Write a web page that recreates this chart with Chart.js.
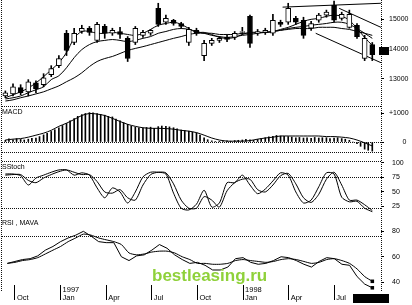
<!DOCTYPE html>
<html><head><meta charset="utf-8">
<script src="https://cdn.jsdelivr.net/npm/chart.js@4.4.0/dist/chart.umd.min.js"></script>
<style>
html,body{margin:0;padding:0;background:#fff;}
#wrap{position:relative;width:412px;height:305px;overflow:hidden;background:#fff;font-family:'Liberation Sans',Arial,sans-serif;}
canvas{position:absolute;left:0;}
.h{position:absolute;left:2px;width:379px;height:0;border-top:1px dotted #111;}
.v{position:absolute;top:0;height:291px;width:0;border-left:1px dotted #111;}
.t{position:absolute;font-size:7px;line-height:8px;color:#000;white-space:nowrap;}
.blk{position:absolute;background:#000;}
#wm{position:absolute;left:152px;top:266px;font:bold 17px 'Liberation Sans',Arial,sans-serif;color:#8fd13a;line-height:20px;white-space:nowrap;}
</style></head><body>
<div id="wrap">
<canvas id="cPrice" width="412" height="104" style="top:0"></canvas>
<canvas id="cMacd" width="412" height="52" style="top:104px"></canvas>
<canvas id="cStoch" width="412" height="60" style="top:156px"></canvas>
<canvas id="cRsi" width="412" height="89" style="top:216px"></canvas>
<div class="v" style="left:1px"></div>
<div class="v" style="left:381px"></div>
<div class="h" style="top:106px"></div>
<div class="h" style="top:142px"></div>
<div class="h" style="top:152px"></div>
<div class="h" style="top:161px"></div>
<div class="h" style="top:177px"></div>
<div class="h" style="top:208px"></div>
<div class="h" style="top:236px"></div>
<div class="t" style="left:2px;top:108px">MACD</div>
<div class="t" style="left:2px;top:163px">SStoch</div>
<div class="t" style="left:2px;top:219px">RSI , MAVA</div>
<div class="blk" style="left:379px;top:47px;width:10px;height:8px"></div>
<div class="blk" style="left:353px;top:294px;width:36px;height:9px"></div>
<div id="wm">bestleasing.ru</div>
</div>
<script>
// ---------- data ----------
const dates = ['1996-09-16','1996-10-01','1996-10-16','1996-11-01','1996-11-16','1996-12-01','1996-12-16',
 '1997-01-01','1997-01-16','1997-02-01','1997-02-16','1997-03-01','1997-03-16','1997-04-01','1997-04-16',
 '1997-05-01','1997-05-16','1997-06-01','1997-06-16','1997-07-01','1997-07-16','1997-08-01','1997-08-16',
 '1997-09-01','1997-09-16','1997-10-01','1997-10-16','1997-11-01','1997-11-16','1997-12-01','1997-12-16',
 '1998-01-01','1998-01-16','1998-02-01','1998-02-16','1998-03-01','1998-03-16','1998-04-01','1998-04-16',
 '1998-05-01','1998-05-16','1998-06-01','1998-06-16','1998-07-01','1998-07-16','1998-08-01','1998-08-16',
 '1998-09-01','1998-09-16'];

const priceOpen  = [12420,12490,12700,12560,12860,12800,13140,13440,14530,14220,14590,14700,14290,14760,14530,14590,14360,14220,14460,14530,15370,14900,14970,14860,14220,14630,13780,14190,14290,14390,14390,14560,15100,14530,14560,14530,14900,14900,15030,14970,14700,14970,15140,15470,15030,14730,14800,13680,14150];
const priceClose = [12530,12730,12530,12900,12660,13030,13340,13680,13950,14530,14700,14560,14830,14530,14630,14490,13680,14700,14560,14630,14830,15030,14860,14760,14660,14530,14190,14290,14360,14320,14530,14590,14190,14590,14630,14970,14830,15370,14900,14460,14860,15140,15240,14970,15170,15170,14420,14360,13810];
const priceHigh  = [12590,12830,12800,12970,12930,13170,13440,13780,14630,14700,14800,14760,14900,14830,14700,14730,14420,14760,14630,14660,15540,15140,15000,14900,14730,14700,14290,14360,14420,14460,14590,14730,15140,14660,14700,15170,14970,15540,15100,15070,14930,15200,15310,15610,15240,15310,14860,14460,14220];
const priceLow   = [12360,12420,12460,12420,12530,12730,13070,13370,13780,14150,14530,14460,14220,14360,14460,14360,13580,14150,14390,14460,14760,14830,14800,14700,14120,14460,13610,14120,14220,14250,14320,14490,14050,14460,14490,14460,14760,14830,14830,14360,14630,14900,15070,14900,14970,14700,14360,13610,13610];

const maFast = [12360,12460,12560,12690,12860,13070,13300,13540,13880,14360,14590,14590,14530,14530,14560,14530,14490,14460,14530,14660,14800,14860,14900,14830,14690,14560,14560,14490,14390,14360,14390,14490,14560,14560,14560,14590,14660,14730,14830,14930,15000,15030,15100,15140,15100,14970,14690,14390,14120];
const maMid  = [12320,12360,12420,12530,12630,12730,12970,13100,13370,13710,13980,14150,14250,14290,14320,14290,14250,14290,14360,14420,14530,14590,14660,14690,14660,14590,14530,14460,14420,14390,14420,14460,14490,14530,14560,14590,14630,14690,14730,14760,14800,14830,14860,14900,14900,14830,14690,14530,14360];
const maSlow = [12250,12290,12360,12420,12490,12560,12660,12760,12900,13030,13200,13410,13580,13680,13750,13850,13950,14020,14080,14150,14220,14290,14360,14420,14490,14530,14530,14530,14490,14490,14490,14530,14530,14560,14560,14590,14630,14660,14690,14690,14690,14730,14730,14730,14690,14660,14590,14530,14460];

const trendTopDates  = ['1998-03-20','1998-10-03']; const trendTopVals  = [15410,15540];
const trendFallDates = ['1998-05-25','1998-10-03']; const trendFallVals = [14530,13540];
const trendFanDates  = ['1998-07-11','1998-10-03']; const trendFanVals  = [15370,14730];

const macdHist = [60,110,80,120,90,70,100,130,140,190,250,300,370,430,500,580,650,740,820,900,960,1000,1030,1020,1000,970,940,900,880,800,740,680,620,560,520,500,490,510,520,480,540,560,550,530,500,460,420,400,380,350,320,240,150,80,40,20,30,50,40,30,50,60,70,90,80,60,90,120,150,180,200,230,210,200,190,170,150,160,140,150,130,160,140,150,150,120,140,150,120,100,60,0,-60,-150,-250,-290,-320];
const macdLine = [70,100,120,170,240,310,410,550,660,790,930,1000,980,930,830,720,620,550,500,480,480,470,450,410,380,330,240,140,70,30,30,30,50,100,140,170,210,210,210,210,210,210,190,190,170,140,70,-30,-140];

const stochK = [81,81,78,62,74,79,84,88,88,79,83,79,57,40,57,50,31,50,76,84,84,81,48,22,19,29,53,24,31,66,66,79,62,47,55,69,83,79,50,31,36,59,83,81,41,33,34,22,16];
const stochD = [79,80,80,70,66,74,80,85,88,84,80,80,68,50,48,54,40,36,62,80,84,83,64,36,22,22,42,36,24,52,66,72,72,54,50,62,78,82,64,40,32,46,72,84,62,36,36,28,18];

const rsiVals  = [54.8,56.3,57.8,58.5,60.7,65.2,68.1,71.9,74.8,77.0,80.0,76.3,71.9,71.1,71.1,60.0,57.0,60.7,61.5,65.2,69.6,66.7,61.5,57.8,54.8,55.6,53.3,49.6,49.6,51.9,58.5,59.3,55.6,54.1,54.8,57.0,60.0,59.3,57.0,54.1,51.9,56.3,59.3,58.5,54.1,53.3,44.4,38.5,35.6];
const mavaVals = [54.8,55.6,57.0,57.8,59.3,62.2,65.2,68.1,71.9,74.8,77.8,77.0,74.8,73.3,71.9,69.6,63.0,61.5,62.2,63.7,64.4,64.4,63.0,60.0,57.8,54.8,54.8,54.1,54.1,54.8,57.0,57.8,57.0,56.3,55.6,56.3,57.8,58.5,57.8,56.3,54.8,55.6,57.8,58.5,57.0,54.8,50.4,44.4,40.7];

const monthTicks  = ['1996-10-01','1997-01-01','1997-04-01','1997-07-01','1997-10-01','1998-01-01','1998-04-01','1998-07-01'];
const monthLabels = ['Oct','Jan','Apr','Jul','Oct','Jan','Apr','Jul'];
const yearLabels  = ['','1997','','','','1998','',''];
const priceTicks = [13000,14000,15000];
const macdTicks  = [0,1000];
const stochTicks = [25,50,75,100];
const rsiTicks   = [40,60,80];

// ---------- helpers ----------
const FONT = "'Liberation Sans', Arial, sans-serif";
function T(d){const p=d.split('-').map(Number);return (p[0]-1996)*12+(p[1]-10)+(p[2]-1)/30;}
const X_MIN=-0.72, X_MAX=24.07;
const histDates=[];
dates.forEach((d,i)=>{histDates.push(d); if(i<dates.length-1) histDates.push(d.slice(0,8)+(d.endsWith('01')?'08':'23'));});
const tickT = monthTicks.map(T);

function noPad(s){s.paddingTop=0;s.paddingBottom=0;s.paddingLeft=0;s.paddingRight=0;}
function xScale(show){
  return {type:'linear',min:X_MIN,max:X_MAX,display:show,offset:false,
    afterBuildTicks:s=>{s.ticks=tickT.map(v=>({value:v}));},
    afterFit:s=>{if(show) s.height=20; noPad(s);},
    grid:{display:true,offset:false,drawOnChartArea:false,drawTicks:true,tickLength:15,tickColor:'#000',tickWidth:1},
    border:{display:false},
    ticks:{autoSkip:false,maxRotation:0,minRotation:0,align:'start',labelOffset:2,padding:-14,color:'#000',
      font:{size:7.5,family:FONT,lineHeight:1.1},
      callback:(v)=>{const k=tickT.findIndex(t=>Math.abs(t-v)<1e-6);return k<0?'':[yearLabels[k],monthLabels[k]];}}
  };
}
function yScale(min,max,ticks,pad,fmt){
  return {position:'right',min,max,
    afterBuildTicks:s=>{s.ticks=ticks.map(v=>({value:v}));},
    afterFit:s=>{s.width=31; noPad(s);},
    grid:{display:true,drawOnChartArea:false,drawTicks:true,tickLength:3,tickColor:'#000'},
    border:{display:false},
    ticks:{color:'#000',padding:pad,font:{size:7,family:FONT},callback:fmt||(v=>String(v))}
  };
}
const base={responsive:false,animation:false,devicePixelRatio:1,events:[],
  layout:{padding:{left:2,right:0,top:0,bottom:0}},
  plugins:{legend:{display:false},tooltip:{enabled:false},title:{display:false}}};
function pts(ds,vals){return ds.map((d,i)=>({x:T(d),y:vals[i]}));}
function line(data,extra){return Object.assign({type:'line',data,borderColor:'#000',borderWidth:1,pointRadius:0,tension:0.35,fill:false},extra||{});}

// ---------- price ----------
new Chart(document.getElementById('cPrice'),{
  type:'bar',
  data:{datasets:[
    {type:'bar',order:1,grouped:false,barThickness:5,borderWidth:1,borderColor:'#000',borderSkipped:false,
     backgroundColor:c=>{const r=c.raw;return r&&r.y[1]<r.y[0]?'#000':'#fff';},
     data:dates.map((d,i)=>({x:T(d),y:[priceOpen[i],priceClose[i]]}))},
    {type:'bar',order:2,grouped:false,barThickness:1,backgroundColor:'#000',
     data:dates.map((d,i)=>({x:T(d),y:[priceLow[i],priceHigh[i]]}))},
    line(pts(dates,maFast),{order:3}),
    line(pts(dates,maMid),{order:3}),
    line(pts(dates,maSlow),{order:3}),
    line(pts(trendTopDates,trendTopVals),{order:3,tension:0}),
    line(pts(trendFallDates,trendFallVals),{order:3,tension:0}),
    line(pts(trendFanDates,trendFanVals),{order:3,tension:0})
  ]},
  options:Object.assign({},base,{scales:{x:xScale(false),y:yScale(12150,15650,priceTicks,5)}})
});

// ---------- MACD ----------
new Chart(document.getElementById('cMacd'),{
  type:'bar',
  data:{datasets:[
    {type:'bar',grouped:false,barThickness:1,backgroundColor:'#000',order:2,data:pts(histDates,macdHist)},
    line(pts(dates,macdLine),{order:1,tension:0.3})
  ]},
  options:Object.assign({},base,{scales:{x:xScale(false),
    y:yScale(-491,1333,macdTicks,5,v=>v===1000?'+1000':'       0')}})
});

// ---------- Stochastics ----------
new Chart(document.getElementById('cStoch'),{
  type:'line',
  data:{datasets:[
    line(pts(dates,stochK),{tension:0.25,clip:false}),
    line(pts(dates,stochD),{tension:0.25,clip:false})
  ]},
  options:Object.assign({},base,{scales:{x:xScale(false),y:yScale(8.6,112,stochTicks,8)}})
});

// ---------- RSI ----------
const lastIdx=dates.length-1;
new Chart(document.getElementById('cRsi'),{
  type:'line',
  data:{datasets:[
    line(pts(dates,rsiVals),{tension:0,clip:false,pointStyle:'rect',pointBackgroundColor:'#000',pointBorderWidth:0,
      pointRadius:c=>c.dataIndex===lastIdx?2.5:0}),
    line(pts(dates,mavaVals),{tension:0.2,clip:false,pointStyle:'rect',pointBackgroundColor:'#000',pointBorderWidth:0,
      pointRadius:c=>c.dataIndex===lastIdx?2.5:0})
  ]},
  options:Object.assign({},base,{scales:{x:xScale(true),y:yScale(37.8,88.9,rsiTicks,8)}})
});
</script>
</body></html>
